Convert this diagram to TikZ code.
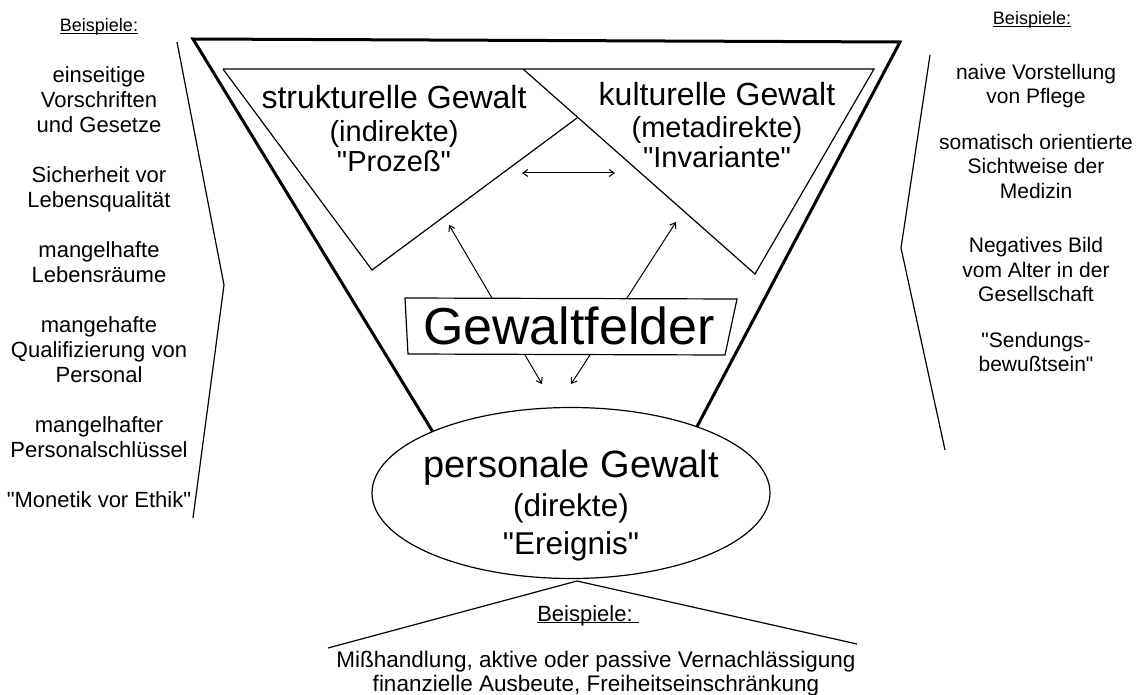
\documentclass[tikz,border=0pt]{standalone}
\usepackage{fontspec}
\setmainfont{Liberation Sans}[Ligatures=TeXOff]
\usetikzlibrary{shapes.geometric, arrows.meta}

\newcommand{\fs}[2]{\fontsize{#1}{#2}\selectfont}

\begin{document}
\begin{tikzpicture}[x=1pt, y=-1pt, >={Straight Barb[length=5pt, width=7pt]},
    duenn/.style = {line width=1.2pt},
    dick/.style = {line width=3pt},
    pfeil/.style = {->, line width=1pt},
    block/.style = {align=center, inner sep=0pt, anchor = north},
    bsp/.style = {inner sep=0pt, anchor = base}]
    \useasboundingbox (0,0) rectangle (1137,695);
    % Trichter
    \coordinate (TL) at (193,39);
    \coordinate (TR) at (900,42);
    \coordinate (BL) at (461,478);
    \coordinate (BR) at (672,474);
    \draw[dick] (BL) -- (TL) -- (TR) -- (BR);
    % Dreiecke oben
    \coordinate (A) at (223,69);
    \coordinate (B) at (523,69);
    \coordinate (C) at (874,69);
    \coordinate (D) at (755,274);
    \coordinate (E) at (372,270);
    \coordinate (F) at (577,118);
    \draw[duenn] (A) -- (C) -- (D) -- (B);
    \draw[duenn] (A) -- (E) -- (F);
    \node[block, font=\fs{29}{30}] (struk) at (394,85)
        {{\fs{32}{32}strukturelle Gewalt}\\[3pt] (indirekte)\\ "Prozeß"};
    \node[block, font=\fs{29}{30}] (kult) at (717,82)
        {{\fs{32}{32}kulturelle Gewalt}\\[2pt] (metadirekte)\\ "Invariante"};
    \coordinate (W1) at (522,173);
    \coordinate (W2) at (615,173);
    \draw[pfeil, <->] (W1) -- (W2);
    % Gewaltfelder
    \coordinate (G1) at (405,298);
    \coordinate (G2) at (737,299);
    \coordinate (G3) at (725,355);
    \coordinate (G4) at (408,354);
    \draw[duenn] (G1) -- (G2) -- (G3) -- (G4) -- cycle;
    \node[inner sep=0pt, font=\fs{52}{52}] (felder) at (569,326) {Gewaltfelder};
    \coordinate (H1) at (492,298);
    \coordinate (H2) at (627,298);
    \coordinate (S1) at (449,225);
    \coordinate (S2) at (676,222);
    \draw[pfeil] (H1) -- (S1);
    \draw[pfeil] (H2) -- (S2);
    \coordinate (U1) at (525,355);
    \coordinate (U2) at (590,355);
    \coordinate (T1) at (542,384);
    \coordinate (T2) at (571,384);
    \draw[pfeil] (U1) -- (T1);
    \draw[pfeil] (U2) -- (T2);
    % personale Gewalt
    \node[draw, duenn, ellipse, fill=white, minimum width=398pt,
        minimum height=171pt, inner sep=0pt] (pers) at (571,493) {};
    \node[block, font=\fs{31.5}{38.5}] (perstext) at (571,450)
        {{\fs{38}{38}personale Gewalt}\\ (direkte)\\ "Ereignis"};
    % Beispiele links
    \node[bsp, font=\fs{18}{20}] (lbsp) at (99,32) {\underbar{Beispiele:}};
    \node[block, font=\fs{22}{25}] (links) at (99,66)
        {einseitige\\ Vorschriften\\ und Gesetze\\[25pt]
         Sicherheit vor\\ Lebensqualität\\[25pt]
         mangelhafte\\ Lebensräume\\[25pt]
         mangehafte\\ Qualifizierung von\\ Personal\\[25pt]
         mangelhafter\\ Personalschlüssel\\[25pt]
         "Monetik vor Ethik"};
    \coordinate (L1) at (177,42);
    \coordinate (L2) at (224,285);
    \coordinate (L3) at (193,518);
    \draw[duenn] (L1) -- (L2) -- (L3);
    % Beispiele rechts
    \node[bsp, font=\fs{18}{20}] (rbsp) at (1032,25) {\underbar{Beispiele:}};
    \node[block, font=\fs{21}{24.5}] (rechts) at (1036,64)
        {naive Vorstellung\\ von Pflege\\[21pt]
         somatisch orientierte\\ Sichtweise der\\ Medizin\\[30pt]
         Negatives Bild\\ vom Alter in der\\ Gesellschaft\\[21pt]
         "Sendungs-\\ bewußtsein"};
    \coordinate (R1) at (930,55);
    \coordinate (R2) at (901,248);
    \coordinate (R3) at (945,450);
    \draw[duenn] (R1) -- (R2) -- (R3);
    % Beispiele unten
    \coordinate (K) at (577,581);
    \coordinate (K1) at (328,648);
    \coordinate (K2) at (857,644);
    \draw[duenn] (K1) -- (K) -- (K2);
    \node[bsp, font=\fs{22}{24}] (ubsp) at (588,621) {\underbar{Beispiele:\ }};
    \node[block, font=\fs{22.5}{24}] (unten) at (596,651)
        {Mißhandlung, aktive oder passive Vernachlässigung\\
         finanzielle Ausbeute, Freiheitseinschränkung};
\end{tikzpicture}
\end{document}
